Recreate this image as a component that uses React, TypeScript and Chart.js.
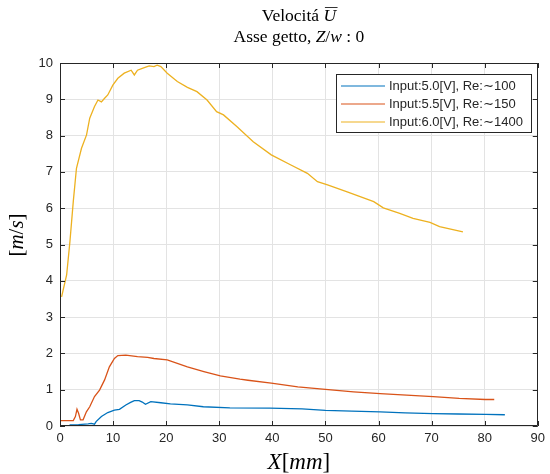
import React, { useEffect, useRef } from "react";
import { Chart, registerables } from "chart.js";

Chart.register(...registerables);

// ---- data ----
const xBlue = [1.8, 3.5, 5.3, 5.9, 6.5, 6.8, 7.8, 9.0, 10.25, 11.2, 12.4, 13.3, 14.0, 14.9, 15.5, 16.1, 17.1, 19.0, 20.8, 24.0, 27.0, 32.0, 39.5, 45.6, 50.0, 55.0, 60.3, 65.0, 70.3, 75.0, 80.2, 83.8];
const yBlue = [0.03, 0.04, 0.06, 0.07, 0.05, 0.12, 0.26, 0.37, 0.44, 0.46, 0.58, 0.65, 0.70, 0.70, 0.66, 0.60, 0.67, 0.64, 0.61, 0.58, 0.53, 0.50, 0.49, 0.47, 0.43, 0.41, 0.39, 0.36, 0.34, 0.33, 0.32, 0.31];

const xRed = [0, 2.5, 2.9, 3.2, 3.5, 3.85, 4.35, 4.97, 5.6, 6.5, 7.45, 8.4, 9.3, 10.25, 10.9, 12.4, 14.6, 16.5, 17.7, 20.2, 24.0, 27.1, 30.2, 33.9, 35.4, 39.8, 44.8, 50.0, 55.3, 60.3, 65.3, 70.3, 75.2, 80.1, 81.8];
const yRed = [0.15, 0.15, 0.26, 0.46, 0.35, 0.17, 0.17, 0.39, 0.53, 0.81, 0.99, 1.27, 1.63, 1.86, 1.94, 1.95, 1.91, 1.89, 1.86, 1.82, 1.63, 1.50, 1.38, 1.29, 1.26, 1.18, 1.08, 1.01, 0.94, 0.89, 0.85, 0.81, 0.76, 0.73, 0.73];

const xYellow = [0.3, 1.25, 1.87, 2.5, 3.1, 4.05, 5.0, 5.6, 6.5, 7.15, 7.8, 8.4, 9.0, 9.95, 10.9, 12.1, 13.4, 14.0, 14.6, 15.5, 16.8, 17.7, 18.3, 19.0, 20.2, 22.1, 24.0, 25.8, 27.7, 29.5, 30.8, 33.3, 36.4, 39.8, 43.5, 46.6, 48.5, 50.4, 54.1, 59.1, 60.9, 64.0, 66.5, 69.7, 71.5, 75.9];
const yYellow = [3.56, 4.16, 5.08, 6.18, 7.10, 7.65, 8.02, 8.48, 8.80, 8.98, 8.93, 9.03, 9.12, 9.39, 9.58, 9.72, 9.80, 9.67, 9.80, 9.85, 9.92, 9.90, 9.94, 9.90, 9.72, 9.49, 9.33, 9.21, 8.98, 8.66, 8.57, 8.25, 7.83, 7.47, 7.19, 6.96, 6.73, 6.64, 6.45, 6.18, 6.01, 5.86, 5.72, 5.61, 5.49, 5.35];

const seriesLabels = ["Input:5.0[V], Re:\u223C100", "Input:5.5[V], Re:\u223C150", "Input:6.0[V], Re:\u223C1400"];
const seriesColors = ["#0072BD", "#D95319", "#EDB120"];
const xTickValues = [0, 10, 20, 30, 40, 50, 60, 70, 80, 90];
const yTickValues = [0, 1, 2, 3, 4, 5, 6, 7, 8, 9, 10];

const SERIF = '"Liberation Serif", "Times New Roman", serif';
const SANS = '"Liberation Sans", Arial, Helvetica, sans-serif';
const TEXT = "#262626";

type Seg = { t: string; italic?: boolean };

function drawSegs(ctx: CanvasRenderingContext2D, segs: Seg[], cx: number, y: number, size: number) {
  const widths = segs.map((s) => {
    ctx.font = `${s.italic ? "italic " : ""}${size}px ${SERIF}`;
    return ctx.measureText(s.t).width;
  });
  const total = widths.reduce((a, b) => a + b, 0);
  let x = cx - total / 2;
  const pos: number[] = [];
  segs.forEach((s, i) => {
    ctx.font = `${s.italic ? "italic " : ""}${size}px ${SERIF}`;
    ctx.fillText(s.t, x, y);
    pos.push(x);
    x += widths[i];
  });
  return { pos, widths };
}

const decorPlugin = {
  id: "decor",
  afterDraw(chart: any) {
    const { ctx, chartArea: a, scales } = chart;
    const xs = scales.x;
    const ys = scales.y;
    ctx.save();
    // box
    ctx.strokeStyle = "#262626";
    ctx.lineWidth = 1;
    ctx.beginPath();
    ctx.rect(Math.round(a.left) + 0.5, Math.round(a.top) + 0.5, Math.round(a.right - a.left) - 1, Math.round(a.bottom - a.top) - 1);
    ctx.stroke();
    // inward ticks
    const tl = 5;
    ctx.beginPath();
    xTickValues.forEach((v) => {
      const px = Math.round(xs.getPixelForValue(v)) + 0.5;
      ctx.moveTo(px, a.bottom);
      ctx.lineTo(px, a.bottom - tl);
      ctx.moveTo(px, a.top);
      ctx.lineTo(px, a.top + tl);
    });
    yTickValues.forEach((v) => {
      const py = Math.round(ys.getPixelForValue(v)) + 0.5;
      ctx.moveTo(a.left, py);
      ctx.lineTo(a.left + tl, py);
      ctx.moveTo(a.right, py);
      ctx.lineTo(a.right - tl, py);
    });
    ctx.stroke();

    // legend
    const lx = 336, ly = 74, lw = 195, lh = 58;
    ctx.fillStyle = "#ffffff";
    ctx.fillRect(lx, ly, lw, lh);
    ctx.strokeStyle = "#262626";
    ctx.strokeRect(lx + 0.5, ly + 0.5, lw, lh);
    ctx.font = `13px ${SANS}`;
    ctx.textBaseline = "middle";
    ctx.textAlign = "left";
    seriesLabels.forEach((lab, i) => {
      const yy = 86 + i * 18;
      ctx.strokeStyle = seriesColors[i];
      ctx.lineWidth = 1.2;
      ctx.beginPath();
      ctx.moveTo(341, yy);
      ctx.lineTo(385, yy);
      ctx.stroke();
      ctx.fillStyle = TEXT;
      ctx.fillText(lab, 389, yy + 0.5);
    });

    // titles
    ctx.fillStyle = "#000000";
    ctx.textBaseline = "alphabetic";
    ctx.textAlign = "left";
    const cx = (a.left + a.right) / 2;
    const t1 = drawSegs(ctx, [{ t: "Velocitá " }, { t: "U", italic: true }], cx, 21, 17.5);
    // overline on U
    ctx.strokeStyle = "#000";
    ctx.lineWidth = 0.8;
    ctx.beginPath();
    ctx.moveTo(t1.pos[1] + 1.5, 7.5);
    ctx.lineTo(t1.pos[1] + t1.widths[1] + 1.5, 7.5);
    ctx.stroke();
    drawSegs(ctx, [{ t: "Asse getto, " }, { t: "Z", italic: true }, { t: "/" }, { t: "w", italic: true }, { t: " : 0" }], cx, 42, 17.5);

    // x-axis title
    drawSegs(ctx, [{ t: "X", italic: true }, { t: "[" }, { t: "mm", italic: true }, { t: "]" }], cx, 469, 23);

    // y-axis title
    ctx.save();
    ctx.translate(23, 235);
    ctx.rotate(-Math.PI / 2);
    drawSegs(ctx, [{ t: "[" }, { t: "m", italic: true }, { t: "/" }, { t: "s", italic: true }, { t: "]" }], 0, 0, 21);
    ctx.restore();

    ctx.restore();
  },
};

function pts(xs: number[], ys: number[]) {
  return xs.map((x, i) => ({ x, y: ys[i] }));
}

export default function App() {
  const ref = useRef<HTMLCanvasElement | null>(null);
  useEffect(() => {
    document.body.style.margin = "0";
    const canvas = ref.current!;
    const chart = new Chart(canvas, {
      type: "line",
      data: {
        datasets: [
          { label: seriesLabels[0], data: pts(xBlue, yBlue), borderColor: seriesColors[0] },
          { label: seriesLabels[1], data: pts(xRed, yRed), borderColor: seriesColors[1] },
          { label: seriesLabels[2], data: pts(xYellow, yYellow), borderColor: seriesColors[2] },
        ].map((d) => ({ ...d, borderWidth: 1.3, pointRadius: 0, tension: 0, fill: false })),
      },
      options: {
        animation: false,
        responsive: false,
        maintainAspectRatio: false,
        layout: { padding: { top: 63, right: 8, left: 0, bottom: 0 } },
        plugins: { legend: { display: false }, title: { display: false }, tooltip: { enabled: false } },
        scales: {
          x: {
            type: "linear",
            min: 0,
            max: 90,
            afterFit: (s: any) => { s.height = 48; },
            afterBuildTicks: (s: any) => { s.ticks = xTickValues.map((v) => ({ value: v })); },
            grid: { color: "#e3e3e3", drawTicks: false, lineWidth: 1 },
            border: { display: false },
            ticks: { color: TEXT, font: { family: SANS, size: 13 }, padding: 5, maxRotation: 0, autoSkip: false },
          },
          y: {
            type: "linear",
            min: 0,
            max: 10,
            afterFit: (s: any) => { s.width = 60; },
            afterBuildTicks: (s: any) => { s.ticks = yTickValues.map((v) => ({ value: v })); },
            grid: { color: "#e3e3e3", drawTicks: false, lineWidth: 1 },
            border: { display: false },
            ticks: { color: TEXT, font: { family: SANS, size: 13 }, padding: 7, autoSkip: false },
          },
        },
      },
      plugins: [decorPlugin],
    } as any);
    return () => chart.destroy();
  }, []);
  return (
    <div style={{ position: "absolute", left: 0, top: 0, width: 550, height: 474 }}>
      <canvas ref={ref} width={550} height={474} style={{ display: "block", width: 550, height: 474 }} />
    </div>
  );
}
